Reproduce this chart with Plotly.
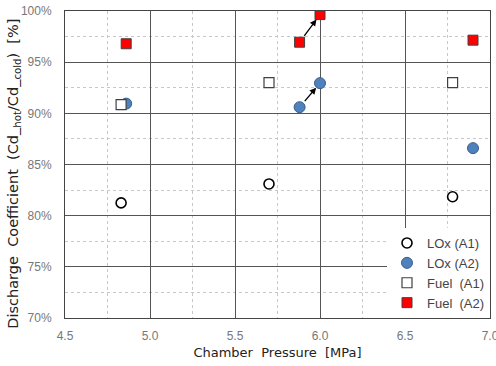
import plotly.graph_objects as go

lox_a1_p = [4.83, 5.70, 6.78]
lox_a1_cd = [81.25, 83.1, 81.85]
lox_a2_p = [4.86, 5.88, 6.00, 6.90]
lox_a2_cd = [90.95, 90.6, 92.95, 86.6]
fuel_a1_p = [4.83, 5.70, 6.78]
fuel_a1_cd = [90.85, 93.0, 93.0]
fuel_a2_p = [4.86, 5.88, 6.00, 6.90]
fuel_a2_cd = [96.8, 96.95, 99.65, 97.15]

FONT = "DejaVu Sans"
fig = go.Figure()
fig.add_trace(go.Scatter(x=lox_a1_p, y=lox_a1_cd, mode="markers", name="LOx (A1)",
                         marker=dict(symbol="circle", size=10, color="white",
                                     line=dict(color="black", width=1.6))))
fig.add_trace(go.Scatter(x=lox_a2_p, y=lox_a2_cd, mode="markers", name="LOx (A2)",
                         marker=dict(symbol="circle", size=11, color="#4f81bd",
                                     line=dict(color="#385d8a", width=1))))
fig.add_trace(go.Scatter(x=fuel_a1_p, y=fuel_a1_cd, mode="markers", name="Fuel  (A1)",
                         marker=dict(symbol="square", size=10, color="white",
                                     line=dict(color="#404040", width=1.2))))
fig.add_trace(go.Scatter(x=fuel_a2_p, y=fuel_a2_cd, mode="markers", name="Fuel  (A2)",
                         marker=dict(symbol="square", size=10, color="#ff0000",
                                     line=dict(color="#404040", width=1))))

for (x0, y0, x1, y1) in [(lox_a2_p[1], lox_a2_cd[1], lox_a2_p[2], lox_a2_cd[2]),
                         (fuel_a2_p[1], fuel_a2_cd[1], fuel_a2_p[2], fuel_a2_cd[2])]:
    fig.add_annotation(x=x1, y=y1, ax=x0, ay=y0, xref="x", yref="y", axref="x", ayref="y",
                       showarrow=True, arrowhead=2, arrowsize=1, arrowwidth=1.3,
                       arrowcolor="black", standoff=6, startstandoff=6, text="")

# y-axis title placed as a rotated annotation for precise positioning
fig.add_annotation(text="Discharge  Coefficient  (Cd_<sub>hot</sub>/Cd_<sub>cold</sub>)  [%]",
                   xref="paper", yref="paper", x=-0.12, y=0.47, xanchor="center", yanchor="middle",
                   textangle=-90, showarrow=False, font=dict(size=14.5, color="#222222"))

fig.update_layout(
    width=496, height=366,
    margin=dict(l=65, r=6, t=11, b=48, autoexpand=False),
    paper_bgcolor="white", plot_bgcolor="white",
    font=dict(family=FONT, size=12, color="#333333"),
    xaxis=dict(range=[4.5, 7.0], dtick=0.5, tickformat=".1f", automargin=False,
               ticklabeloverflow="allow",
               showgrid=True, gridcolor="#555555", gridwidth=1,
               minor=dict(dtick=0.25, showgrid=True, gridcolor="#c8c8c8", griddash="3px,3px", gridwidth=1),
               showline=True, linecolor="#444444", mirror=True, zeroline=False,
               ticks="", ticklen=0, ticklabelstandoff=7,
               tickfont=dict(family="Liberation Sans", size=12, color="#777777"),
               title=dict(text="Chamber  Pressure  [MPa]", font=dict(size=13, color="#222222"), standoff=5)),
    yaxis=dict(range=[70, 100], dtick=5, ticksuffix="%", automargin=False,
               ticklabeloverflow="allow",
               showgrid=True, gridcolor="#555555", gridwidth=1,
               minor=dict(dtick=2.5, showgrid=True, gridcolor="#c8c8c8", griddash="3px,3px", gridwidth=1),
               showline=True, linecolor="#444444", mirror=True, zeroline=False,
               ticks="", ticklen=0, ticklabelstandoff=10,
               tickfont=dict(family="Liberation Sans", size=12, color="#777777")),
    legend=dict(x=1, y=0, xanchor="right", yanchor="bottom", bgcolor="white",
                borderwidth=0, font=dict(family="Liberation Sans", size=13, color="#444444"),
                itemwidth=30, tracegroupgap=2),
    showlegend=True,
)
fig.write_html("out.html", config={"displayModeBar": False},
               post_script="document.body.style.margin='0';document.body.style.overflow='hidden';")
